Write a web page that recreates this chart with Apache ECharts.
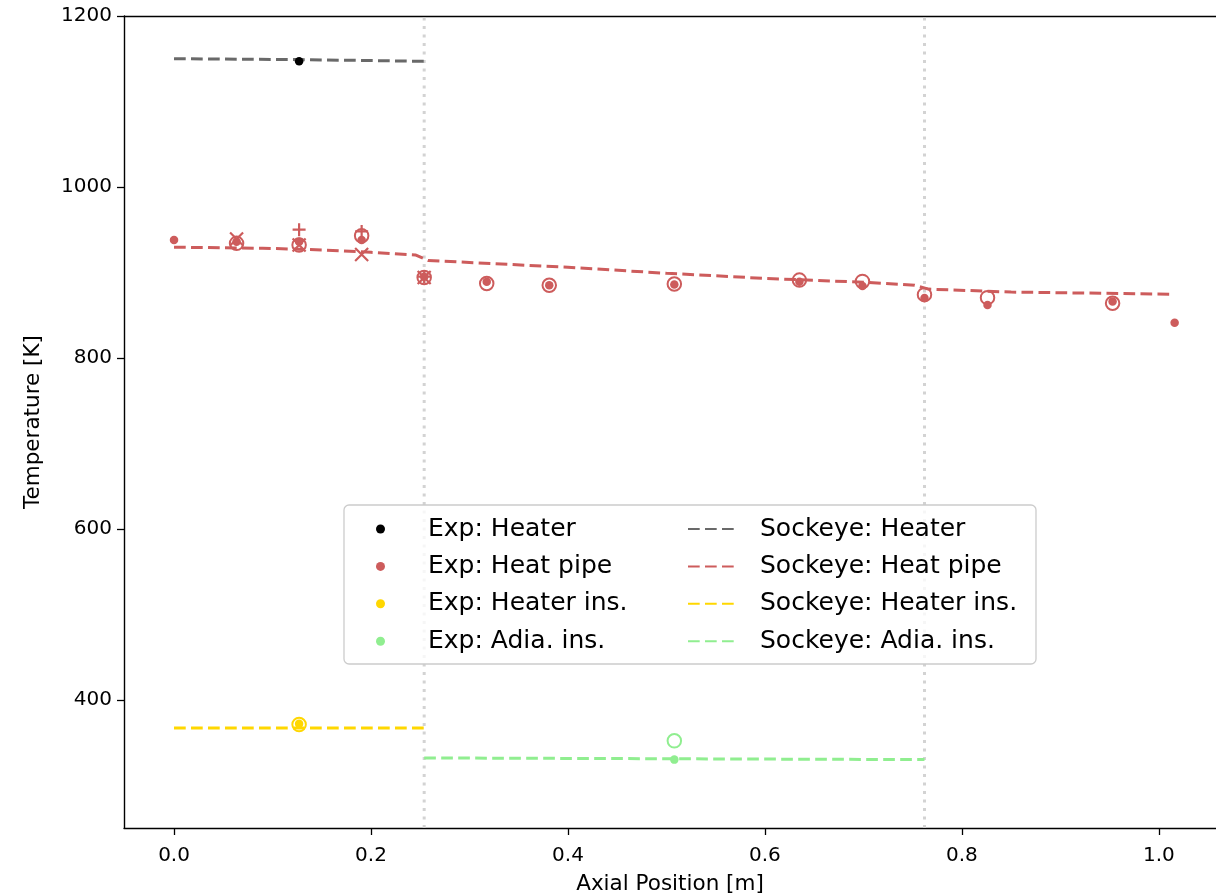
<!DOCTYPE html>
<html>
<head>
<meta charset="utf-8">
<title>Axial temperature</title>
<script src="https://cdn.jsdelivr.net/npm/echarts@6/dist/echarts.min.js"></script>
<style>
	html, body { margin: 0; padding: 0; background: #fff; }
	#mychart { width: 1216px; height: 895px; }
</style>
</head>
<body>
<div id="mychart"></div>
<script>
// tick labels
var xTicks = [0, 0.2, 0.4, 0.6, 0.8, 1.0];
var yTicks = [400, 600, 800, 1000, 1200];

// experiment, heater
var expHeaterX = [0.127];
var expHeaterT = [1147];

// experiment, heat pipe (filled dots)
var expHpX = [0, 0.0635, 0.127, 0.1905, 0.254, 0.3175, 0.381, 0.508, 0.635, 0.699, 0.762, 0.826, 0.953, 1.016];
var expHpT = [938, 936, 936, 938, 895, 889, 885, 886, 889, 884, 870, 862, 866, 841];
// other thermocouples on the heat pipe (open circles, plus, cross)
var hpCircleX = [0.0635, 0.127, 0.1905, 0.254, 0.3175, 0.381, 0.508, 0.635, 0.699, 0.762, 0.826, 0.953];
var hpCircleT = [934, 932, 943, 894, 887, 885, 886.5, 891, 889.5, 874, 870.5, 864];
var hpPlusX = [0.127, 0.1905, 0.254];
var hpPlusT = [950, 948, 895];
var hpCrossX = [0.0635, 0.127, 0.1905, 0.254];
var hpCrossT = [939, 932, 921, 894];

// experiment, insulation
var expHinsX = [0.127];
var expHinsT = [372];
var hinsCircleT = [371];
var expAinsX = [0.508];
var expAinsT = [330];
var ainsCircleT = [352];

// sockeye
var sockHeaterX = [0, 0.127, 0.254];
var sockHeaterT = [1150, 1149, 1147];
var sockHpX = [0, 0.09, 0.15, 0.2, 0.245, 0.258, 0.4, 0.5, 0.6, 0.7, 0.752, 0.766, 0.85, 1.015];
var sockHpT = [929.5, 928.3, 926.3, 923.5, 920.5, 914, 906, 899, 893, 888.5, 885, 880.5, 877, 874.5];
var sockHinsX = [0, 0.254];
var sockHinsT = [367, 367];
var sockAinsX = [0.254, 0.508, 0.762];
var sockAinsT = [332, 331, 330];

// region borders
var borderX = [0.254, 0.762];

function pairs(xs, ys) {
	var out = [];
	for(var i = 0; i < xs.length; i++) {
		out.push([xs[i], ys[i]]);
	}
	return out;
}

function chart() {
	var myChart = echarts.init(document.getElementById("mychart"));
	var font = 'DejaVu Sans';
	var red = '#CD5C5C';
	var gray = '#696969';
	var gold = '#FFD700';
	var green = '#90EE90';
	var dash = [11.7, 5.3];
	var ymin = 250, ymax = 1200;

	function dot(name, xs, ys, color) {
		return {
			name: name, type: 'scatter', data: pairs(xs, ys),
			symbol: 'circle', symbolSize: 8.5, z: 4,
			itemStyle: { color: color, opacity: 1 }
		};
	}
	function ring(name, xs, ys, color) {
		return {
			name: name, type: 'scatter', data: pairs(xs, ys),
			symbol: 'circle', symbolSize: 13.5, z: 3,
			itemStyle: { color: 'rgba(255,255,255,0)', borderColor: color, borderWidth: 2, opacity: 1 }
		};
	}
	function mark(name, path, xs, ys) {
		return {
			name: name, type: 'scatter', data: pairs(xs, ys),
			symbol: path, symbolSize: 13, z: 3,
			itemStyle: { color: 'rgba(255,255,255,0)', borderColor: red, borderWidth: 2.2, opacity: 1 }
		};
	}
	function dline(name, xs, ys, color) {
		return {
			name: name, type: 'line', data: pairs(xs, ys),
			symbol: 'none', showSymbol: false, z: 2,
			itemStyle: { color: color },
			lineStyle: { color: color, width: 3, type: dash }
		};
	}
	function vline(x) {
		return {
			name: 'border' + x, type: 'line', data: [[x, ymin], [x, ymax]],
			symbol: 'none', z: 1, silent: true,
			lineStyle: { color: '#D3D3D3', width: 3, type: [3, 5.5] }
		};
	}

	// spacer between legend icon and text
	var legendText = {
		fontFamily: font, fontSize: 25, color: '#000', lineHeight: 30,
		rich: { g: { width: 18 } }
	};
	var legendFmt = function(name) { return '{g|}' + name; };

	var option = {
		animation: false,
		backgroundColor: '#fff',
		grid: { left: 124, right: 0, top: 16, bottom: 67, outerBoundsMode: 'none', containLabel: false },
		xAxis: [{
			type: 'value', min: -0.0508, max: 1.058,
			name: 'Axial Position [m]', nameLocation: 'middle', nameGap: 45,
			nameTextStyle: { fontFamily: font, fontSize: 21.5, color: '#000' },
			axisLine: { show: true, onZero: false, lineStyle: { color: '#000', width: 1.4 } },
			axisTick: { show: true, length: 7, customValues: xTicks, lineStyle: { color: '#000', width: 1.3 } },
			axisLabel: {
				customValues: xTicks, margin: 18, fontFamily: font, fontSize: 20, color: '#000',
				formatter: function(v) { return v.toFixed(1); }
			},
			splitLine: { show: false }
		}, {
			type: 'value', position: 'top', min: -0.0508, max: 1.058,
			axisLine: { show: true, onZero: false, lineStyle: { color: '#000', width: 1.4 } },
			axisTick: { show: false },
			axisLabel: { show: false },
			splitLine: { show: false }
		}],
		yAxis: {
			type: 'value', min: ymin, max: ymax,
			name: 'Temperature [K]', nameLocation: 'middle', nameGap: 80, nameRotate: 90,
			nameTextStyle: { fontFamily: font, fontSize: 21.5, color: '#000' },
			axisLine: { show: true, onZero: false, lineStyle: { color: '#000', width: 1.4 } },
			axisTick: { show: true, length: 7, customValues: yTicks, lineStyle: { color: '#000', width: 1.3 } },
			axisLabel: {
				customValues: yTicks, margin: 12, fontFamily: font, fontSize: 20, color: '#000',
				formatter: function(v) { return String(v); }
			},
			splitLine: { show: false }
		},
		graphic: [{
			type: 'rect', z: 3,
			shape: { x: 344, y: 505, width: 692, height: 159, r: 5 },
			style: { fill: 'rgba(255,255,255,0.8)', stroke: '#cccccc', lineWidth: 1.3 }
		}],
		legend: [{
			data: ['Exp: Heater', 'Exp: Heat pipe', 'Exp: Heater ins.', 'Exp: Adia. ins.'],
			orient: 'vertical', left: 376, top: 514, padding: 0,
			itemWidth: 49, itemHeight: 9, itemGap: 7.4, selectedMode: false, z: 5,
			textStyle: legendText, formatter: legendFmt
		}, {
			data: ['Sockeye: Heater', 'Sockeye: Heat pipe', 'Sockeye: Heater ins.', 'Sockeye: Adia. ins.'],
			orient: 'vertical', left: 687, top: 514, padding: 0,
			itemWidth: 49, itemHeight: 9, itemGap: 7.4, selectedMode: false, z: 5,
			itemStyle: { opacity: 0 },
			textStyle: legendText, formatter: legendFmt
		}],
		series: [
			vline(borderX[0]),
			vline(borderX[1]),
			dline('Sockeye: Heater', sockHeaterX, sockHeaterT, gray),
			dline('Sockeye: Heat pipe', sockHpX, sockHpT, red),
			dline('Sockeye: Heater ins.', sockHinsX, sockHinsT, gold),
			dline('Sockeye: Adia. ins.', sockAinsX, sockAinsT, green),
			ring('hp ring', hpCircleX, hpCircleT, red),
			mark('hp plus', 'path://M1,0L1,2M0,1L2,1', hpPlusX, hpPlusT),
			mark('hp cross', 'path://M0,0L2,2M2,0L0,2', hpCrossX, hpCrossT),
			ring('hins ring', expHinsX, hinsCircleT, gold),
			ring('ains ring', expAinsX, ainsCircleT, green),
			dot('Exp: Heater', expHeaterX, expHeaterT, '#000'),
			dot('Exp: Heat pipe', expHpX, expHpT, red),
			dot('Exp: Heater ins.', expHinsX, expHinsT, gold),
			dot('Exp: Adia. ins.', expAinsX, expAinsT, green)
		]
	};
	myChart.setOption(option);
}
chart();
</script>
</body>
</html>
